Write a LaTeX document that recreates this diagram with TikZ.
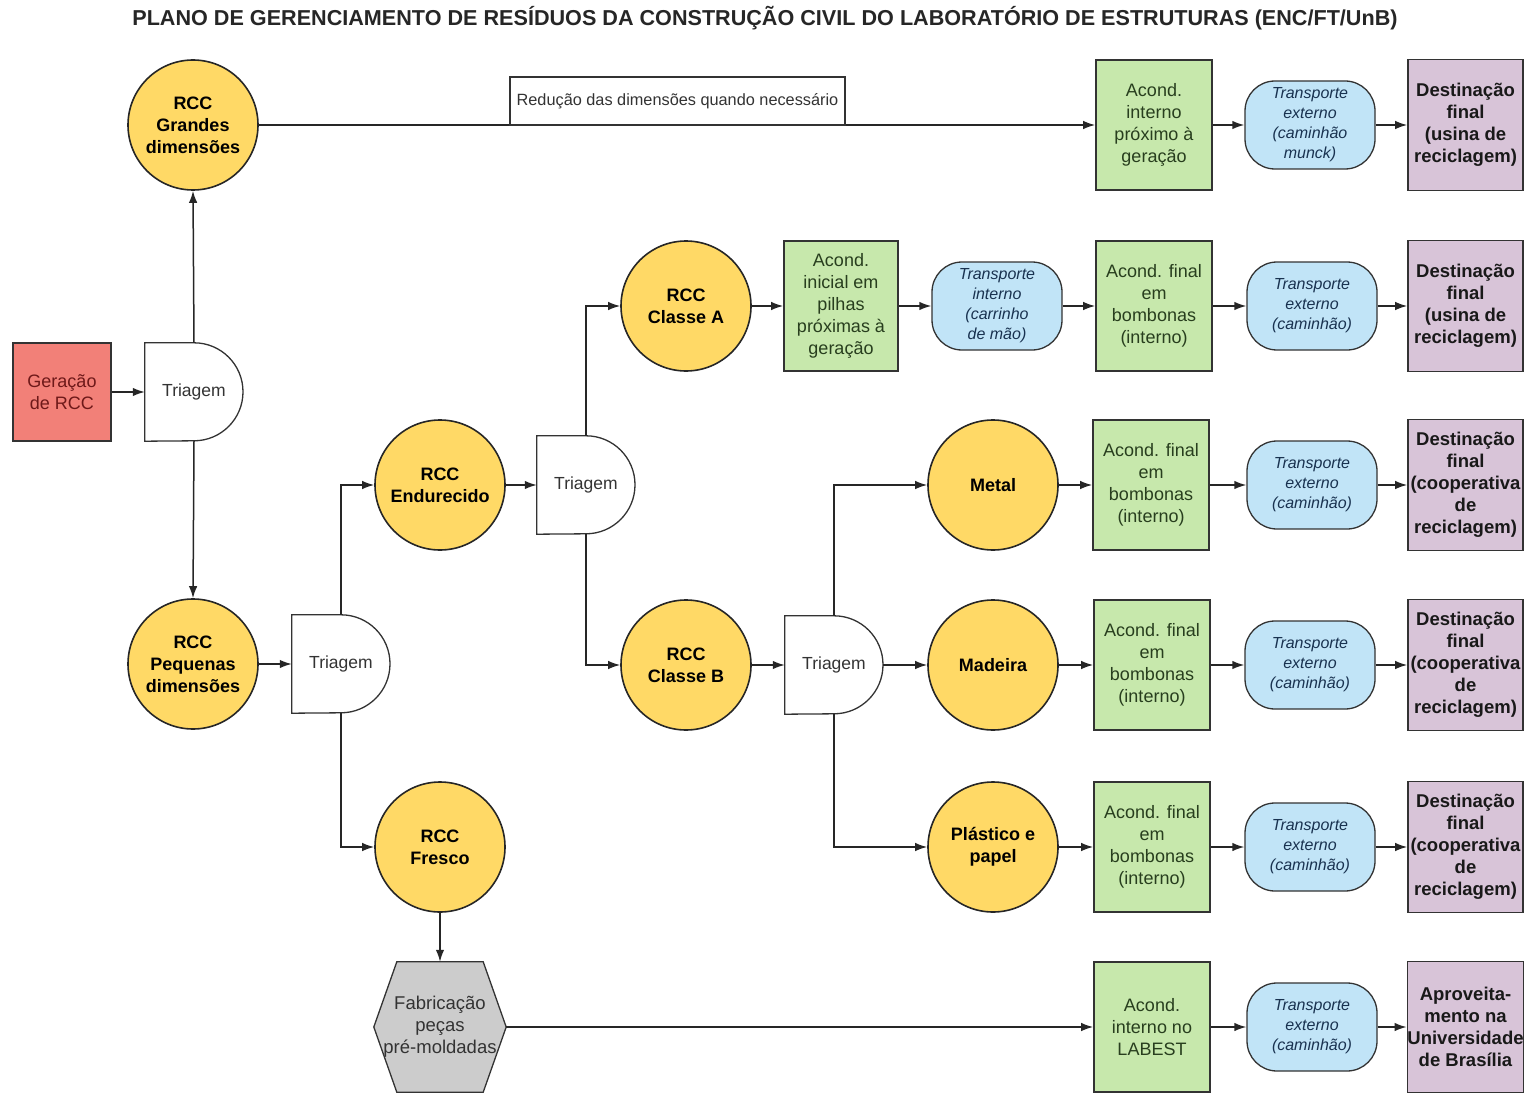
\documentclass[tikz,border=0pt]{standalone}
\usepackage{fontspec}
\setmainfont{Liberation Sans}
\usetikzlibrary{arrows.meta,calc,backgrounds}
\definecolor{cyel}{RGB}{255,217,102}
\definecolor{cgrn}{RGB}{199,232,172}
\definecolor{cblu}{RGB}{193,228,247}
\definecolor{cpur}{RGB}{216,196,216}
\definecolor{cred}{RGB}{242,128,120}
\definecolor{cgry}{RGB}{204,204,204}
\definecolor{cbord}{RGB}{51,51,51}
\definecolor{tgrn}{RGB}{40,62,30}
\definecolor{tblu}{RGB}{25,50,80}
\definecolor{tred}{RGB}{110,25,25}
\begin{document}
\begin{tikzpicture}[x=1pt,y=-1pt,
  circ/.style={circle, draw=black!85, line width=1.6pt, fill=cyel, minimum size=130pt, inner sep=0pt, align=center, font=\bfseries\fontsize{18}{22}\selectfont},
  gbox/.style={rectangle, draw=cbord, line width=1.6pt, fill=cgrn, minimum width=116pt, minimum height=130pt, inner sep=0pt, align=center, text=tgrn, font=\fontsize{18}{22}\selectfont},
  tbox/.style={rectangle, rounded corners=30pt, draw=cbord, line width=1.3pt, fill=cblu, minimum width=130pt, minimum height=88pt, inner sep=0pt, align=center, text=tblu, font=\itshape\fontsize{16}{20}\selectfont},
  dbox/.style={rectangle, draw=cbord, line width=1.6pt, fill=cpur, minimum width=115pt, minimum height=131pt, inner sep=0pt, align=center, text=black!90, font=\bfseries\fontsize{18.5}{22}\selectfont},
  tri/.style={rectangle, minimum width=98pt, minimum height=98pt, inner sep=0pt, align=center, text=black!80, font=\fontsize{17.5}{20}\selectfont},
  trishape/.style={draw=cbord, line width=1.3pt},
  arr/.style={line width=1.5pt, draw=black!85, -{Latex[length=12pt,width=8.5pt]}},
  ln/.style={line width=1.5pt, draw=black!85}
]
\useasboundingbox (0,0) rectangle (1526,1094);

% title
\node[font=\bfseries\fontsize{21.6}{24}\selectfont, text=black!85] (title) at (765,18)
  {PLANO DE GERENCIAMENTO DE RESÍDUOS DA CONSTRUÇÃO CIVIL DO LABORATÓRIO DE ESTRUTURAS (ENC/FT/UnB)};

% left part
\node[rectangle, draw=cbord, line width=1.6pt, fill=cred, minimum width=98pt, minimum height=98pt, inner sep=0pt, align=center, text=tred, font=\fontsize{18}{22}\selectfont] (ger) at (62,392) {Geração\\de RCC};

\node[tri] (t1) at (194,392) {Triagem};
\node[tri] (t2) at (341,664) {Triagem};
\node[tri] (t3) at (586,485) {Triagem};
\node[tri] (t4) at (834,665) {Triagem};
\foreach \t in {t1,t2,t3,t4}{
  \draw[trishape] (\t.north west) -- (\t.north) arc[start angle=90, end angle=-90, radius=49pt] -- (\t.south west) -- cycle;
}

\node[circ] (grandes) at (193,125) {RCC\\Grandes\\dimensões};
\node[circ] (pequenas) at (193,664) {RCC\\Pequenas\\dimensões};
\node[circ] (endur) at (440,485) {RCC\\Endurecido};
\node[circ] (fresco) at (440,847) {RCC\\Fresco};
\node[circ] (classeA) at (686,306) {RCC\\Classe A};
\node[circ] (classeB) at (686,665) {RCC\\Classe B};
\node[circ] (metal) at (993,485) {Metal};
\node[circ] (madeira) at (993,665) {Madeira};
\node[circ] (plast) at (993,847) {Plástico e\\papel};

% hexagon
\node[rectangle, minimum width=132pt, minimum height=130pt, inner sep=0pt, align=center, text=black!80, font=\fontsize{18.5}{22}\selectfont] (hex) at (440,1027) {Fabricação\\peças\\pré-moldadas};
\begin{scope}[on background layer]
\draw[draw=cbord, line width=1.3pt, fill=cgry] (hex.west) -- ($(hex.north west)+(23,0)$) -- ($(hex.north east)+(-23,0)$) -- (hex.east) -- ($(hex.south east)+(-23,0)$) -- ($(hex.south west)+(23,0)$) -- cycle;
\end{scope}

% row 0
\node[gbox] (a0) at (1154,125) {Acond.\\interno\\próximo à\\geração};
\node[tbox] (tr0) at (1310,125) {Transporte\\externo\\(caminhão\\munck)};
\node[dbox] (d0) at (1465.5,125) {Destinação\\final\\(usina de\\reciclagem)};

% row 1
\node[gbox, minimum width=114pt] (ai) at (841,306) {Acond.\\inicial em\\pilhas\\próximas à\\geração};
\node[tbox] (ti) at (997,306) {Transporte\\interno\\(carrinho\\de mão)};
\node[gbox] (a1) at (1154,306) {Acond. final\\em\\bombonas\\(interno)};
\node[tbox] (tr1) at (1312,306) {Transporte\\externo\\(caminhão)};
\node[dbox] (d1) at (1465.5,306) {Destinação\\final\\(usina de\\reciclagem)};

% row 2
\node[gbox] (a2) at (1151,485) {Acond. final\\em\\bombonas\\(interno)};
\node[tbox] (tr2) at (1312,485) {Transporte\\externo\\(caminhão)};
\node[dbox] (d2) at (1465.5,485) {Destinação\\final\\(cooperativa\\de\\reciclagem)};

% row 3
\node[gbox] (a3) at (1152,665) {Acond. final\\em\\bombonas\\(interno)};
\node[tbox] (tr3) at (1310,665) {Transporte\\externo\\(caminhão)};
\node[dbox] (d3) at (1465.5,665) {Destinação\\final\\(cooperativa\\de\\reciclagem)};

% row 4
\node[gbox] (a4) at (1152,847) {Acond. final\\em\\bombonas\\(interno)};
\node[tbox] (tr4) at (1310,847) {Transporte\\externo\\(caminhão)};
\node[dbox] (d4) at (1465.5,847) {Destinação\\final\\(cooperativa\\de\\reciclagem)};

% row 5
\node[gbox] (a5) at (1152,1027) {Acond.\\interno no\\LABEST};
\node[tbox] (tr5) at (1312,1027) {Transporte\\externo\\(caminhão)};
\node[dbox] (d5) at (1465.5,1027) {Aproveita-\\mento na\\Universidade\\de Brasília};

% connectors
\draw[arr] (grandes.east) -- (a0.west);
\node[rectangle, draw=cbord, line width=1.3pt, fill=white, minimum width=335pt, minimum height=48pt, inner sep=0pt, text=black!80, font=\fontsize{16.3}{18}\selectfont] (lbl) at (677.5,101) {Redução das dimensões quando necessário};
\draw[arr] (a0.east) -- (tr0.west);
\draw[arr] (tr0.east) -- (d0.west);

\draw[arr] (ger.east) -- (t1.west);
\draw[arr] (t1.north) -- (grandes.south);
\draw[arr] (t1.south) -- (pequenas.north);
\draw[arr] (pequenas.east) -- (t2.west);
\draw[arr] (t2.north) |- (endur.west);
\draw[arr] (t2.south) |- (fresco.west);
\draw[arr] (fresco.south) -- (hex.north);
\draw[arr] (hex.east) -- (a5.west);
\draw[arr] (endur.east) -- (t3.west);
\draw[arr] (t3.north) |- (classeA.west);
\draw[arr] (t3.south) |- (classeB.west);
\draw[arr] (classeA.east) -- (ai.west);
\draw[arr] (ai.east) -- (ti.west);
\draw[arr] (ti.east) -- (a1.west);
\draw[arr] (a1.east) -- (tr1.west);
\draw[arr] (tr1.east) -- (d1.west);
\draw[arr] (classeB.east) -- (t4.west);
\draw[arr] (t4.north) |- (metal.west);
\draw[arr] (t4.east) -- (madeira.west);
\draw[arr] (t4.south) |- (plast.west);
\draw[arr] (metal.east) -- (a2.west);
\draw[arr] (a2.east) -- (tr2.west);
\draw[arr] (tr2.east) -- (d2.west);
\draw[arr] (madeira.east) -- (a3.west);
\draw[arr] (a3.east) -- (tr3.west);
\draw[arr] (tr3.east) -- (d3.west);
\draw[arr] (plast.east) -- (a4.west);
\draw[arr] (a4.east) -- (tr4.west);
\draw[arr] (tr4.east) -- (d4.west);
\draw[arr] (a5.east) -- (tr5.west);
\draw[arr] (tr5.east) -- (d5.west);
\end{tikzpicture}
\end{document}
